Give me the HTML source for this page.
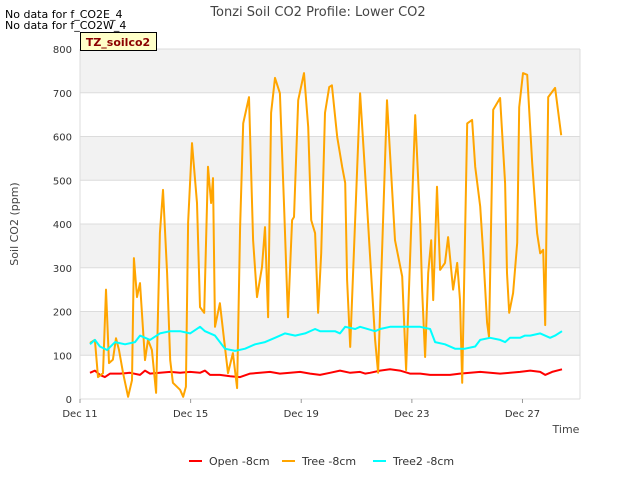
<!DOCTYPE html>
<html><head><meta charset="utf-8"><style>
body{margin:0;background:#fff;font-family:"Liberation Sans","DejaVu Sans",sans-serif}
text{font-family:"DejaVu Sans","Liberation Sans",sans-serif}
</style></head><body>
<svg id="chart" width="640" height="480" xmlns="http://www.w3.org/2000/svg">
<g id="bands"></g>
<g id="grid"></g>
<g id="axes"></g>
<g id="series"></g>
<text x="318" y="16" text-anchor="middle" font-size="13" fill="#444">Tonzi Soil CO2 Profile: Lower CO2</text>
<text x="5" y="18" font-size="11" fill="#000">No data for f_CO2E_4</text>
<text x="5" y="29" font-size="11" fill="#000">No data for f_CO2W_4</text>
<g><rect x="80.5" y="32.5" width="76" height="18" fill="#ffffc8" stroke="#000" stroke-width="1"/><text x="118" y="46" text-anchor="middle" font-size="11" font-weight="bold" fill="#8b0000">TZ_soilco2</text></g>
<text transform="translate(18,224) rotate(-90)" text-anchor="middle" font-size="11" fill="#444">Soil CO2 (ppm)</text>
<text x="566" y="433" text-anchor="middle" font-size="11" fill="#444">Time</text>
<g>
<g><line x1="189" y1="461" x2="202" y2="461" stroke="#ff0000" stroke-width="2"/><text x="209" y="465" font-size="11" fill="#333">Open -8cm</text></g>
<g><line x1="282" y1="461" x2="295" y2="461" stroke="#ffa500" stroke-width="2"/><text x="302" y="465" font-size="11" fill="#333">Tree -8cm</text></g>
<g><line x1="373" y1="461" x2="386" y2="461" stroke="#00ffff" stroke-width="2"/><text x="393" y="465" font-size="11" fill="#333">Tree2 -8cm</text></g>
</g>
</svg>
<script>
const xTickLabels=["Dec 11","Dec 15","Dec 19","Dec 23","Dec 27"];
const xTickDays=[0,4,8,12,16];
const yTicks=[0,100,200,300,400,500,600,700,800];
const treeDays=[0.36,0.54,0.65,0.83,0.94,1.05,1.19,1.30,1.41,1.56,1.74,1.88,1.95,2.06,2.17,2.35,2.46,2.60,2.75,2.89,3.00,3.15,3.26,3.36,3.62,3.73,3.83,3.91,4.05,4.23,4.34,4.49,4.63,4.74,4.81,4.88,5.06,5.21,5.35,5.53,5.68,5.79,5.90,6.11,6.26,6.40,6.58,6.69,6.80,6.91,7.05,7.23,7.38,7.49,7.52,7.67,7.74,7.89,8.10,8.25,8.36,8.50,8.61,8.72,8.86,9.01,9.11,9.30,9.48,9.59,9.66,9.77,10.13,10.31,10.49,10.67,10.78,11.10,11.21,11.39,11.65,11.79,12.12,12.30,12.37,12.48,12.59,12.70,12.77,12.91,13.02,13.20,13.31,13.49,13.64,13.74,13.82,14.00,14.18,14.29,14.47,14.58,14.72,14.79,14.94,15.19,15.37,15.44,15.52,15.66,15.81,15.88,16.02,16.17,16.35,16.53,16.64,16.75,16.82,16.93,17.18,17.40];
const treeVals=[128,135,50,59,250,82,90,139,112,59,5,43,322,233,265,89,135,112,14,379,478,288,89,37,21,5,28,402,585,448,210,197,531,448,505,165,219,135,59,105,25,393,630,690,363,233,302,393,187,654,734,699,439,242,187,409,416,683,745,622,409,379,197,333,654,713,717,599,530,494,272,119,699,516,325,135,60,683,562,363,280,66,649,402,250,96,288,363,226,485,295,311,370,250,311,226,37,630,638,531,440,333,174,142,661,688,493,288,197,242,357,667,745,741,539,379,333,341,169,690,711,603];
const tree2Days=[0.36,0.54,0.72,0.98,1.27,1.63,1.99,2.17,2.53,2.89,3.26,3.62,3.98,4.34,4.52,4.88,5.24,5.61,5.97,6.33,6.69,7.05,7.41,7.78,8.14,8.50,8.68,9.22,9.40,9.59,9.95,10.13,10.67,10.85,11.21,11.57,11.93,12.30,12.66,12.84,13.20,13.56,13.92,14.29,14.47,14.83,15.19,15.37,15.55,15.91,16.09,16.28,16.64,17.00,17.18,17.43];
const tree2Vals=[125,135,120,112,130,125,130,145,135,150,155,155,150,165,155,145,115,110,115,125,130,140,150,145,150,160,155,155,150,165,160,165,155,160,165,165,165,165,160,130,125,115,115,120,135,140,135,130,140,140,145,145,150,140,145,155];
const openDays=[0.36,0.54,0.72,0.90,1.09,1.45,1.81,2.17,2.35,2.53,2.89,3.26,3.62,3.98,4.34,4.52,4.70,5.06,5.43,5.79,6.15,6.51,6.87,7.23,7.60,7.96,8.32,8.68,9.04,9.40,9.77,10.13,10.31,10.49,10.85,11.21,11.57,11.93,12.30,12.66,13.02,13.38,13.74,14.11,14.47,14.83,15.19,15.55,15.91,16.28,16.64,16.82,17.07,17.43];
const openVals=[60,65,55,50,58,58,60,55,65,58,60,62,60,62,60,65,55,55,52,50,58,60,62,58,60,62,58,55,60,65,60,62,58,60,65,68,65,58,58,55,55,55,58,60,62,60,58,60,62,65,62,55,62,68];

const NS="http://www.w3.org/2000/svg";
const L=80,R=580,T=49,B=399,dayMin=0,dayMax=18.08,vMax=800;
function xs(d){return L+(d-dayMin)/(dayMax-dayMin)*(R-L);}
function ys(v){return B-v/vMax*(B-T);}
function mk(tag,attrs,parent){const e=document.createElementNS(NS,tag);for(const k in attrs)e.setAttribute(k,attrs[k]);parent.appendChild(e);return e;}
const bands=document.getElementById('bands'),grid=document.getElementById('grid'),axes=document.getElementById('axes'),series=document.getElementById('series');
mk('rect',{x:L,y:T,width:R-L,height:B-T,fill:'#ffffff'},bands);
for(let i=0;i<yTicks.length-1;i++){
  if(i%2===1){const r=mk('rect',{x:L,y:ys(yTicks[i+1]),width:R-L,height:ys(yTicks[i])-ys(yTicks[i+1]),fill:'#f2f2f2'},bands);
  
  }
}
yTicks.forEach(v=>{
  const g=mk('line',{x1:L,x2:R,y1:ys(v),y2:ys(v),stroke:'#dcdcdc','stroke-width':1},grid);
  
  
  const t=mk('text',{x:L-8,y:ys(v)+4,'text-anchor':'end','font-size':10,fill:'#333'},axes);
  t.textContent=v;
  
  
});
mk('line',{x1:L,x2:L,y1:T,y2:B,stroke:'#dcdcdc'},grid);
mk('line',{x1:R,x2:R,y1:T,y2:B,stroke:'#dcdcdc'},grid);
xTickDays.forEach((d,i)=>{
  mk('line',{x1:xs(d),x2:xs(d),y1:B,y2:B+4,stroke:'#999'},axes);
  const t=mk('text',{x:xs(d),y:B+18,'text-anchor':'middle','font-size':10,fill:'#333'},axes);
  t.textContent=xTickLabels[i];
  
  
});
function line(days,vals,color,name){
  const pts=days.map((d,i)=>xs(d).toFixed(1)+','+ys(vals[i]).toFixed(1)).join(' ');
  const p=mk('polyline',{points:pts,fill:'none',stroke:color,'stroke-width':2,'stroke-linejoin':'round'},series);
  
  
}
line(openDays,openVals,'#ff0000','open-8cm-line');
line(treeDays,treeVals,'#ffa500','tree-8cm-line');
line(tree2Days,tree2Vals,'#00ffff','tree2-8cm-line');
</script>
</body></html>
